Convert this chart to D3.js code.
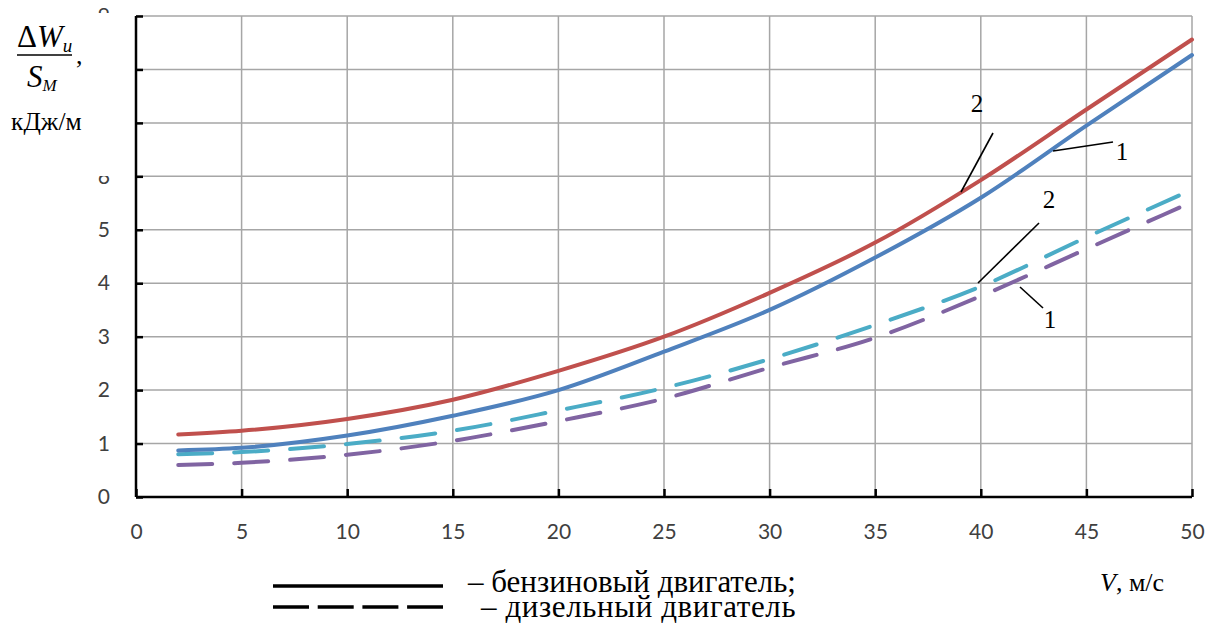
<!DOCTYPE html>
<html>
<head>
<meta charset="utf-8">
<script src="https://cdn.jsdelivr.net/npm/d3@7"></script>
<style>
  html, body { margin: 0; padding: 0; background: #fff; }
  svg { display: block; }
</style>
</head>
<body>
<svg id="chart" width="1214" height="627"></svg>
<script>
// Speed, m/s
const speeds = [2, 5, 10, 15, 20, 25, 30, 35, 40, 45, 50];
// Specific energy losses, kJ/m
const petrol2 = [1.17, 1.24, 1.46, 1.82, 2.36, 3.00, 3.82, 4.76, 5.93, 7.25, 8.56];
const petrol1 = [0.87, 0.92, 1.15, 1.52, 2.00, 2.72, 3.50, 4.48, 5.60, 6.95, 8.27];
const diesel2 = [0.80, 0.84, 0.99, 1.24, 1.62, 2.04, 2.58, 3.22, 3.94, 4.86, 5.75];
const diesel1 = [0.60, 0.64, 0.79, 1.05, 1.42, 1.84, 2.42, 2.98, 3.76, 4.64, 5.52];

const xTicks = [0, 5, 10, 15, 20, 25, 30, 35, 40, 45, 50];
const yTicks = [0, 1, 2, 3, 4, 5, 6, 7, 8, 9];

const series = [
  { name: "diesel1", values: diesel1, color: "#8064A2", dashed: true },
  { name: "diesel2", values: diesel2, color: "#4BACC6", dashed: true },
  { name: "petrol1", values: petrol1, color: "#4F81BD", dashed: false },
  { name: "petrol2", values: petrol2, color: "#C0504D", dashed: false }
];

const SERIF = "Liberation Serif";
const SANS = "Lato";

const svg = d3.select("#chart");
const x = d3.scaleLinear().domain([0, 50]).range([136, 1192]);
const y = d3.scaleLinear().domain([0, 9]).range([497, 16]);

// grid
const grid = svg.append("g").attr("stroke", "#a6a6a6").attr("stroke-width", 1.5);
grid.selectAll("line.v").data(xTicks.slice(1)).join("line")
  .attr("x1", d => x(d)).attr("x2", d => x(d))
  .attr("y1", y(0)).attr("y2", y(9));
grid.selectAll("line.h").data(yTicks.slice(1)).join("line")
  .attr("x1", x(0)).attr("x2", x(50))
  .attr("y1", d => y(d)).attr("y2", d => y(d));

// axes
const xAxis = d3.axisBottom(x).tickValues(xTicks).tickSize(-8).tickPadding(27);
const yAxis = d3.axisLeft(y).tickValues(yTicks).tickSize(-7).tickPadding(26);
const gx = svg.append("g").attr("transform", `translate(0,${y(0)})`).call(xAxis);
const gy = svg.append("g").attr("transform", `translate(${x(0)},0)`).call(yAxis);
[gx, gy].forEach(g => {
  g.attr("font-family", SANS).attr("font-size", 21);
  g.select(".domain").attr("stroke", "#000").attr("stroke-width", 2.5);
  g.selectAll(".tick line").attr("stroke", "#000").attr("stroke-width", 2.5);
  g.selectAll(".tick text").attr("fill", "#404040");
});
gy.select(".domain").attr("d", `M0,${y(9)}V${y(0)}`);
gx.select(".domain").attr("d", `M0,0H${x(50) - x(0)}`).attr("transform", `translate(${x(0)},0)`);

// curves
const line = d3.line().x((d, i) => x(speeds[i])).y(d => y(d)).curve(d3.curveMonotoneX);
svg.append("g").selectAll("path").data(series).join("path")
  .attr("d", d => line(d.values))
  .attr("fill", "none")
  .attr("stroke", d => d.color)
  .attr("stroke-width", 4)
  .attr("stroke-linecap", "round")
  .attr("stroke-dasharray", d => d.dashed ? "34 22" : null);

// curve labels with leaders
const leaders = [
  [993, 133, 961, 192], [1113, 142, 1053, 151],
  [1039, 223, 978, 283], [1043, 308, 1020, 287]
];
svg.append("g").selectAll("line").data(leaders).join("line")
  .attr("x1", d => d[0]).attr("y1", d => d[1]).attr("x2", d => d[2]).attr("y2", d => d[3])
  .attr("stroke", "#000").attr("stroke-width", 1.6);
const numLabels = [["2", 977, 112], ["1", 1122, 160], ["2", 1049, 208], ["1", 1050, 328]];
svg.append("g").attr("font-family", SERIF).attr("font-size", 25)
  .selectAll("text").data(numLabels).join("text")
  .attr("x", d => d[1]).attr("y", d => d[2]).attr("text-anchor", "middle")
  .text(d => d[0]);

// axis title block (its background hides the upper tick labels)
svg.append("rect").attr("x", 0).attr("y", 13).attr("width", 126).attr("height", 163).attr("fill", "#fff");
const t = svg.append("g").attr("font-family", SERIF);
t.append("text").attr("x", 17).attr("y", 47).attr("font-size", 31)
  .html('<tspan>Δ</tspan><tspan font-style="italic">W</tspan><tspan font-style="italic" font-size="19" dy="5">u</tspan>');
t.append("line").attr("x1", 17).attr("x2", 72).attr("y1", 55).attr("y2", 55)
  .attr("stroke", "#000").attr("stroke-width", 1.5);
t.append("text").attr("x", 27).attr("y", 87).attr("font-size", 31)
  .html('<tspan font-style="italic">S</tspan><tspan font-style="italic" font-size="17" dy="4">M</tspan>');
t.append("text").attr("x", 76).attr("y", 64).attr("font-size", 26).text(",");
t.append("text").attr("x", 11).attr("y", 130).attr("font-size", 25.5).text("кДж/м");

// x-axis title
const vt = svg.append("text").attr("font-family", SERIF).attr("x", 1100).attr("y", 591).attr("font-size", 26);
vt.append("tspan").attr("font-style", "italic").text("V");
vt.append("tspan").text(", м/с");

// legend
const legend = svg.append("g").attr("font-family", SERIF).attr("font-size", 31);
legend.append("line").attr("x1", 273).attr("x2", 443).attr("y1", 586).attr("y2", 586)
  .attr("stroke", "#000").attr("stroke-width", 3.5);
legend.append("line").attr("x1", 273).attr("x2", 443).attr("y1", 607).attr("y2", 607)
  .attr("stroke", "#000").attr("stroke-width", 3.5).attr("stroke-dasharray", "36 8.7");
legend.append("text").attr("x", 468).attr("y", 592).text("– бензиновый двигатель;");
legend.append("text").attr("x", 481).attr("y", 617).attr("letter-spacing", 0.6).text("– дизельный двигатель");
</script>
</body>
</html>
